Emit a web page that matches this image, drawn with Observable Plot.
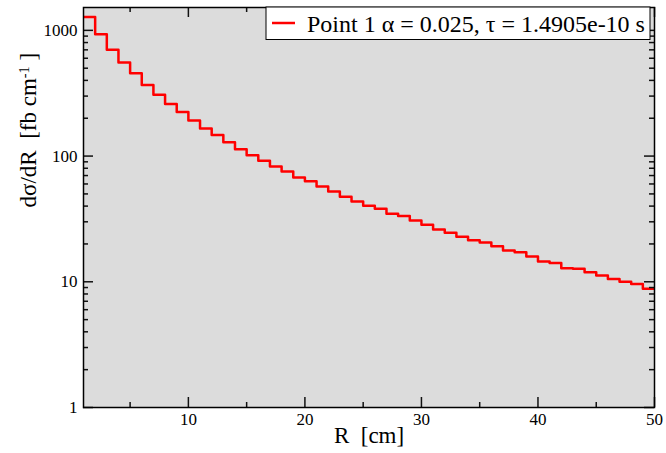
<!DOCTYPE html>
<html>
<head>
<meta charset="utf-8">
<script src="https://cdn.jsdelivr.net/npm/d3@7"></script>
<script src="https://cdn.jsdelivr.net/npm/@observablehq/plot@0.6"></script>
<style>
  body { margin: 0; background: #fff; }
  #chart svg { display: block; }
</style>
</head>
<body>
<div id="chart"></div>
<script>
// Histogram of dσ/dR: lower bin edges (cm) and bin contents (fb/cm)
const binStart = [1,2,3,4,5,6,7,8,9,10,11,12,13,14,15,16,17,18,19,20,21,22,23,24,25,
                  26,27,28,29,30,31,32,33,34,35,36,37,38,39,40,41,42,43,44,45,46,47,48,49];
const binEnd = 50;
const dsigma = [1280, 930, 700, 556, 455, 367, 308, 259, 224, 192, 166, 147, 129, 113.5, 101.7,
                91.6, 82.6, 75.4, 67.6, 63.1, 57.3, 52.3, 47.4, 43.5, 40.3, 38.1, 34.7, 33.3, 30.7,
                28.4, 26.1, 24.5, 22.8, 21.4, 20.5, 19.2, 17.7, 17.2, 15.9, 14.5, 14.1, 12.8, 12.7,
                11.9, 11.2, 10.5, 10.0, 9.6, 8.8];

// Axis ticks
const xMajor = [10, 20, 30, 40, 50];
const xMinor = [5, 15, 25, 35, 45];
const yMajor = [1, 10, 100, 1000];
const yMinor = [2,3,4,5,6,7,8,9, 20,30,40,50,60,70,80,90, 200,300,400,500,600,700,800,900];

const seriesLabel = "Point 1 α = 0.025, τ = 1.4905e-10 s";
const xTitle = "R\u00a0 [cm]";
const yTitle = "dσ/dR\u00a0 [fb cm-1]";

// Step outline: each bin value holds until the next edge, closed at the last edge
const steps = binStart.map((r, i) => ({R: r, v: dsigma[i]}))
  .concat([{R: binEnd, v: dsigma[dsigma.length - 1]}]);

const W = 666, H = 453;
const mL = 83, mR = 12, mT = 7, mB = 46;
const innerW = W - mL - mR, innerH = H - mT - mB;
const major = 10, minor = 5;
const font = "'Liberation Serif', 'Times New Roman', serif";

const plot = Plot.plot({
  width: W, height: H,
  marginLeft: mL, marginRight: mR, marginTop: mT, marginBottom: mB,
  style: {fontFamily: font, fontSize: "17px", color: "#000", background: "#fff"},
  x: {domain: [1, 50]},
  y: {type: "log", domain: [1, 1520]},
  marks: [
    Plot.frame({fill: "#dcdcdc", stroke: null}),
    Plot.line(steps, {x: "R", y: "v", curve: "step-after", stroke: "#ff0000", strokeWidth: 2.5, clip: true}),
    // inward ticks on all four sides
    Plot.tickX(xMajor, {x: d => d, insetTop: innerH - major, stroke: "#111", strokeWidth: 1.5}),
    Plot.tickX(xMinor, {x: d => d, insetTop: innerH - minor, stroke: "#111", strokeWidth: 1.5}),
    Plot.tickX(xMajor, {x: d => d, insetBottom: innerH - major, stroke: "#111", strokeWidth: 1.5}),
    Plot.tickX(xMinor, {x: d => d, insetBottom: innerH - minor, stroke: "#111", strokeWidth: 1.5}),
    Plot.tickY(yMajor, {y: d => d, insetRight: innerW - major, stroke: "#111", strokeWidth: 1.5}),
    Plot.tickY(yMinor, {y: d => d, insetRight: innerW - minor, stroke: "#111", strokeWidth: 1.5}),
    Plot.tickY(yMajor, {y: d => d, insetLeft: innerW - major, stroke: "#111", strokeWidth: 1.5}),
    Plot.tickY(yMinor, {y: d => d, insetLeft: innerW - minor, stroke: "#111", strokeWidth: 1.5}),
    Plot.frame({stroke: "#000", strokeWidth: 1.5}),
    Plot.axisX(xMajor, {tickSize: 0, tickPadding: 5, label: null, fontSize: 17, tickFormat: d => String(d)}),
    Plot.axisY(yMajor, {tickSize: 0, tickPadding: 6, label: null, fontSize: 17, tickFormat: d => String(d)}),
    Plot.text([xTitle], {frameAnchor: "bottom", dy: 35, text: d => d, fontSize: 23}),
    Plot.text([yTitle], {frameAnchor: "left", dx: -55, rotate: -90, text: d => d, fontSize: 23})
  ]
});

document.getElementById("chart").appendChild(plot);

// y-axis title with a superscript exponent
const svg = d3.select(plot);
const yt = svg.selectAll("text").filter(function () { return this.textContent === yTitle; });
yt.text(null);
yt.append("tspan").text("dσ/dR\u00a0 [fb cm");
yt.append("tspan").attr("dy", "-0.45em").attr("font-size", "0.62em").text("-1");
yt.append("tspan").attr("dy", "0.28em").text("\u00a0]");

// legend box in the upper right of the plot area
const lg = svg.append("g").attr("font-family", font).attr("text-anchor", "start");
lg.append("rect").attr("x", 266).attr("y", 7).attr("width", 384).attr("height", 32.5)
  .attr("fill", "#fff").attr("stroke", "#000").attr("stroke-width", 1);
lg.append("line").attr("x1", 272).attr("x2", 295).attr("y1", 23).attr("y2", 23)
  .attr("stroke", "#ff0000").attr("stroke-width", 2.5);
lg.append("text").attr("x", 307).attr("y", 31.5).attr("font-size", 24).attr("fill", "#000")
  .attr("text-anchor", "start").text(seriesLabel);
</script>
</body>
</html>
